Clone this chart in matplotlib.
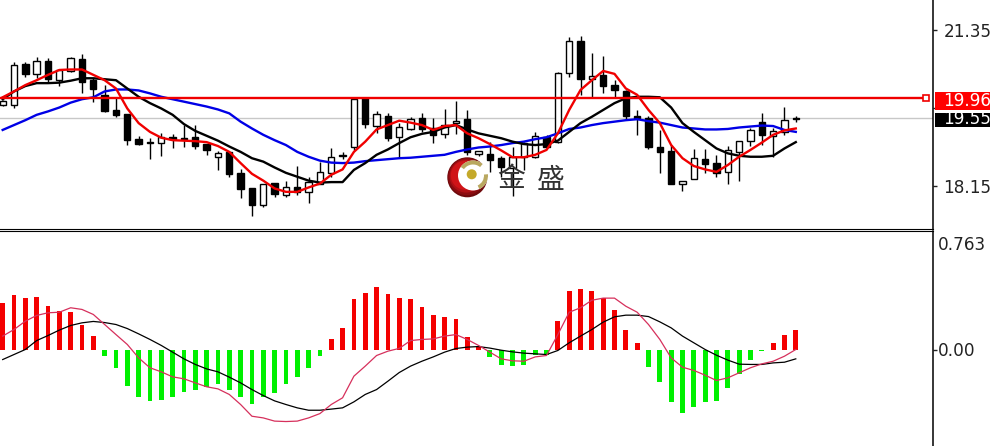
import numpy as np
import matplotlib
matplotlib.use('Agg')
import matplotlib.pyplot as plt
from matplotlib.patches import Circle, Rectangle, Wedge

# candles
opens = [19.81, 19.81, 20.65, 20.45, 20.72, 20.32, 20.51, 20.76, 20.32, 20.02,
         19.70, 19.62, 19.11, 19.05, 19.03, 19.16, 19.13, 19.15, 19.01, 18.75,
         18.85, 18.42, 18.10, 17.76, 18.22, 17.97, 18.12, 18.03, 18.20, 18.42,
         18.77, 18.96, 19.95, 19.39, 19.59, 19.16, 19.31, 19.55, 19.33, 19.22,
         19.44, 19.52, 18.80, 18.81, 18.72, 18.51, 18.75, 18.74, 19.16, 19.06,
         20.46, 21.13, 20.35, 20.43, 20.22, 20.09, 19.59, 19.54, 18.96, 18.86,
         18.19, 18.30, 18.71, 18.62, 18.43, 18.85, 19.07, 19.47, 19.18, 19.26,
         19.55]
highs = [19.91, 20.70, 20.70, 20.80, 20.77, 20.56, 20.80, 20.86, 20.36, 20.22,
         19.95, 19.62, 19.18, 19.13, 19.24, 19.21, 19.40, 19.40, 19.01, 18.87,
         18.87, 18.50, 18.10, 18.20, 18.22, 18.25, 18.57, 18.34, 18.65, 18.92,
         18.85, 19.95, 19.98, 19.68, 19.64, 19.44, 19.57, 19.64, 19.55, 19.72,
         19.89, 19.70, 18.87, 19.06, 18.77, 18.96, 19.06, 19.26, 19.20, 20.48,
         21.20, 21.23, 20.87, 20.82, 20.32, 20.11, 19.71, 19.59, 19.29, 18.99,
         18.26, 18.90, 18.91, 18.79, 18.98, 19.08, 19.33, 19.65, 19.33, 19.78,
         19.59]
lows = [19.79, 19.76, 20.38, 20.36, 20.26, 20.21, 20.48, 20.05, 19.88, 19.66,
        19.56, 18.99, 19.00, 18.70, 18.77, 18.92, 18.96, 18.90, 18.79, 18.48,
        18.33, 17.90, 17.54, 17.71, 17.92, 17.92, 17.97, 17.81, 18.20, 18.33,
        18.70, 18.89, 19.35, 19.23, 19.07, 18.72, 19.30, 19.26, 19.03, 19.13,
        19.22, 18.79, 18.77, 18.44, 18.34, 17.95, 18.48, 18.72, 18.92, 19.03,
        20.38, 20.02, 19.95, 20.05, 19.98, 19.52, 19.20, 18.90, 18.42, 18.20,
        18.05, 18.29, 18.41, 18.33, 18.20, 18.26, 18.97, 18.99, 18.75, 19.20,
        19.47]
closes = [19.89, 20.63, 20.45, 20.71, 20.34, 20.53, 20.78, 20.29, 20.13, 19.69,
          19.60, 19.09, 19.02, 19.03, 19.16, 19.11, 19.11, 18.98, 18.88, 18.83,
          18.40, 18.09, 17.76, 18.19, 17.99, 18.12, 18.02, 18.23, 18.44, 18.75,
          18.78, 19.93, 19.42, 19.62, 19.14, 19.35, 19.52, 19.31, 19.20, 19.40,
          19.49, 18.85, 18.86, 18.68, 18.53, 18.74, 19.03, 19.18, 18.96, 20.46,
          21.12, 20.35, 20.41, 20.21, 20.11, 19.59, 19.55, 18.94, 18.85, 18.20,
          18.25, 18.73, 18.60, 18.41, 18.88, 19.08, 19.30, 19.20, 19.28, 19.50,
          19.52]

# moving averages
ma_red = [19.97, 20.09, 20.22, 20.32, 20.43, 20.53, 20.54, 20.54, 20.43, 20.32,
          20.15, 19.74, 19.44, 19.26, 19.14, 19.09, 19.08, 19.07, 19.05, 18.97,
          18.85, 18.62, 18.40, 18.26, 18.10, 18.03, 18.03, 18.12, 18.20, 18.38,
          18.49, 18.85, 19.06, 19.31, 19.40, 19.49, 19.45, 19.40, 19.30, 19.38,
          19.40, 19.23, 19.13, 19.01, 18.88, 18.74, 18.74, 18.79, 18.89, 19.23,
          19.71, 20.12, 20.32, 20.51, 20.45, 20.15, 20.02, 19.71, 19.44, 18.99,
          18.72, 18.56, 18.49, 18.44, 18.58, 18.75, 18.89, 19.04, 19.20, 19.29,
          19.33]
ma_black = [19.93, 20.09, 20.20, 20.26, 20.26, 20.27, 20.31, 20.36, 20.36, 20.34,
            20.32, 20.15, 19.98, 19.85, 19.74, 19.61, 19.42, 19.28, 19.18, 19.08,
            18.96, 18.85, 18.72, 18.65, 18.53, 18.42, 18.34, 18.26, 18.22, 18.23,
            18.23, 18.48, 18.62, 18.79, 18.90, 19.03, 19.15, 19.22, 19.26, 19.35,
            19.40, 19.31, 19.23, 19.18, 19.13, 19.06, 19.01, 18.99, 19.01, 19.08,
            19.26, 19.44, 19.57, 19.71, 19.85, 19.95, 19.98, 19.98, 19.97, 19.76,
            19.44, 19.26, 19.09, 18.92, 18.82, 18.77, 18.75, 18.75, 18.77, 18.92,
            19.05]
ma_blue = [19.30, 19.40, 19.50, 19.61, 19.68, 19.76, 19.86, 19.93, 19.97, 20.09,
           20.13, 20.13, 20.11, 20.05, 19.98, 19.93, 19.88, 19.83, 19.78, 19.72,
           19.64, 19.47, 19.33, 19.20, 19.09, 18.99, 18.85, 18.75, 18.67, 18.63,
           18.62, 18.63, 18.66, 18.68, 18.70, 18.72, 18.73, 18.75, 18.77, 18.79,
           18.85, 18.90, 18.94, 18.96, 18.99, 19.03, 19.06, 19.11, 19.15, 19.23,
           19.32, 19.35, 19.40, 19.44, 19.47, 19.50, 19.52, 19.48, 19.45, 19.40,
           19.35, 19.33, 19.31, 19.31, 19.32, 19.35, 19.37, 19.39, 19.38, 19.30,
           19.26]

# lower pane
hist = [0.334, 0.387, 0.370, 0.377, 0.310, 0.275, 0.267, 0.179, 0.096, -0.043,
        -0.131, -0.258, -0.337, -0.370, -0.363, -0.337, -0.303, -0.287, -0.267, -0.248,
        -0.287, -0.337, -0.389, -0.337, -0.310, -0.248, -0.198, -0.131, -0.043, 0.076,
        0.153, 0.361, 0.404, 0.447, 0.394, 0.368, 0.361, 0.308, 0.248, 0.232,
        0.215, 0.093, 0.024, -0.053, -0.110, -0.119, -0.110, -0.036, -0.036, 0.205,
        0.420, 0.430, 0.420, 0.368, 0.282, 0.143, 0.043, -0.122, -0.232, -0.377,
        -0.456, -0.413, -0.377, -0.370, -0.275, -0.174, -0.072, -0.014, 0.043, 0.103,
        0.143]
signal = [-0.072, -0.036, 0.000, 0.064, 0.100, 0.139, 0.172, 0.191, 0.201, 0.193,
          0.179, 0.150, 0.112, 0.072, 0.029, -0.019, -0.067, -0.107, -0.139, -0.160,
          -0.198, -0.239, -0.287, -0.330, -0.368, -0.394, -0.418, -0.435, -0.435, -0.427,
          -0.418, -0.375, -0.322, -0.287, -0.227, -0.165, -0.119, -0.084, -0.053, -0.019,
          0.007, 0.017, 0.021, 0.010, -0.005, -0.017, -0.026, -0.031, -0.036, -0.007,
          0.048, 0.096, 0.143, 0.196, 0.234, 0.246, 0.246, 0.236, 0.198, 0.155,
          0.096, 0.048, 0.000, -0.041, -0.076, -0.105, -0.107, -0.107, -0.096, -0.091,
          -0.067]
macd = [0.096, 0.143, 0.203, 0.244, 0.263, 0.267, 0.299, 0.287, 0.251, 0.179,
        0.107, 0.036, -0.060, -0.131, -0.160, -0.196, -0.210, -0.239, -0.267, -0.282,
        -0.322, -0.394, -0.478, -0.490, -0.513, -0.516, -0.513, -0.490, -0.459, -0.394,
        -0.346, -0.191, -0.119, -0.043, -0.012, 0.008, 0.064, 0.072, 0.076, 0.096,
        0.107, 0.072, 0.029, -0.019, -0.067, -0.081, -0.084, -0.053, -0.043, 0.107,
        0.267, 0.299, 0.353, 0.368, 0.368, 0.310, 0.267, 0.179, 0.072, -0.060,
        -0.127, -0.150, -0.184, -0.222, -0.203, -0.167, -0.131, -0.103, -0.084, -0.048,
        0.000]

price_ticks = [21.35, 19.75, 18.15]
price_labels = ['21.35', '', '18.15']
macd_ticks = [0.763, 0.0]
macd_labels = ['0.763', '0.00']
level_red = 19.96
level_last = 19.55

W, H = 990, 446
fig = plt.figure(figsize=(W / 100, H / 100), dpi=100, facecolor='white')
ax = fig.add_axes([0, 1 - 229 / H, 933 / W, 229 / H])
ax2 = fig.add_axes([0, 0, 933 / W, (H - 231) / H])

x = np.arange(len(opens))
xlim = (-0.236, 82.11)

# upper pane
o, h, l, c = map(np.array, (opens, highs, lows, closes))
ax.vlines(x, l, h, color='black', lw=1.0, zorder=2)
up = c >= o
ax.bar(x[up], (c - o)[up], bottom=o[up], width=0.56, facecolor='white',
       edgecolor='black', lw=1.0, zorder=3)
ax.bar(x[~up], (c - o)[~up], bottom=o[~up], width=0.56, facecolor='black',
       edgecolor='black', lw=1.0, zorder=3)
ax.axhline(level_last, color='#c8c8c8', lw=1.0, zorder=1)
ax.plot(x, ma_blue, color='#0000e6', lw=1.7, zorder=4)
ax.plot(x, ma_black, color='black', lw=1.7, zorder=4)
ax.plot(x, ma_red, color='#f00000', lw=1.7, zorder=5)
ax.plot([xlim[0], 81.4], [level_red, level_red], color='#f00000', lw=1.7, zorder=5)
ax.plot([81.5], [level_red], marker='s', ms=4.5, mfc='white', mec='#f00000', mew=1.2,
        zorder=5)
ax.set_xlim(xlim)
ax.set_ylim(21.35 - 199 / 48.75, 21.35 + 30 / 48.75)
ax.set_yticks(price_ticks)
ax.set_yticklabels(price_labels)

# lower pane
hist_arr = np.array(hist)
ax2.bar(x, hist_arr, width=0.42, color=np.where(hist_arr >= 0, '#f40000', '#00f000'), zorder=2)
ax2.plot(x, signal, color='black', lw=0.9, zorder=3)
ax2.plot(x, macd, color='#d6305c', lw=0.9, zorder=4)
ax2.set_xlim(xlim)
ax2.set_ylim((349.5 - H) / 139.6, (349.5 - 231) / 139.6)
ax2.set_yticks(macd_ticks)
ax2.set_yticklabels(macd_labels)

for a, pad in ((ax, 4.5), (ax2, 0.8)):
    a.set_xticks([])
    a.yaxis.tick_right()
    a.tick_params(axis='y', length=3, width=1, pad=pad, labelsize=12.2, colors='#222222')
    a.spines['left'].set_visible(False)
    a.spines['right'].set_linewidth(1.1)
    a.patch.set_alpha(0)
ax.spines['top'].set_visible(False)
ax2.spines['bottom'].set_visible(False)
ax2.yaxis.get_major_ticks()[0].tick2line.set_visible(False)

# overlay for price tags and the logo, in pixels
ov = fig.add_axes([0, 0, 1, 1])
ov.set_xlim(0, W)
ov.set_ylim(H, 0)
ov.axis('off')
ov.patch.set_alpha(0)
ov.add_patch(Rectangle((935, 92), 55, 17.5, color='#ff0000', lw=0))
ov.add_patch(Rectangle((935, 112.7), 55, 14.6, color='black', lw=0))
ov.text(943, 101.5, '19.96', color='white', fontsize=12.2, va='center')
ov.text(943, 119.5, '19.55', color='white', fontsize=12.2, va='center')

# logo
for r, dx, col in ((20, 0, '#6f0a0c'), (18.5, -0.6, '#8c0c10'), (16.5, -1.2, '#b01015'),
                   (14.5, -2.0, '#d01418')):
    ov.add_patch(Circle((467.3 + dx, 177.3 + dx), r, color=col, lw=0))
ov.add_patch(Circle((473, 175.5), 15, color='white', lw=0))
ov.add_patch(Wedge((473, 175.5), 15, -145, -50, width=4, color='#b9a860', lw=0))
ov.add_patch(Wedge((473, 175.5), 15, -5, 65, width=4, color='#b9a860', lw=0))
ov.add_patch(Circle((471.7, 174.3), 5, color='#c4a92a', lw=0))

ov.text(510.7, 179, '金', family=['Noto Sans CJK SC', 'DejaVu Sans'], fontsize=20,
        color='#333333', ha='center', va='center')
ov.text(551, 179.5, '盛', family=['Noto Sans CJK SC', 'DejaVu Sans'], fontsize=20,
        color='#333333', ha='center', va='center')

plt.savefig('out.png', dpi=100)
